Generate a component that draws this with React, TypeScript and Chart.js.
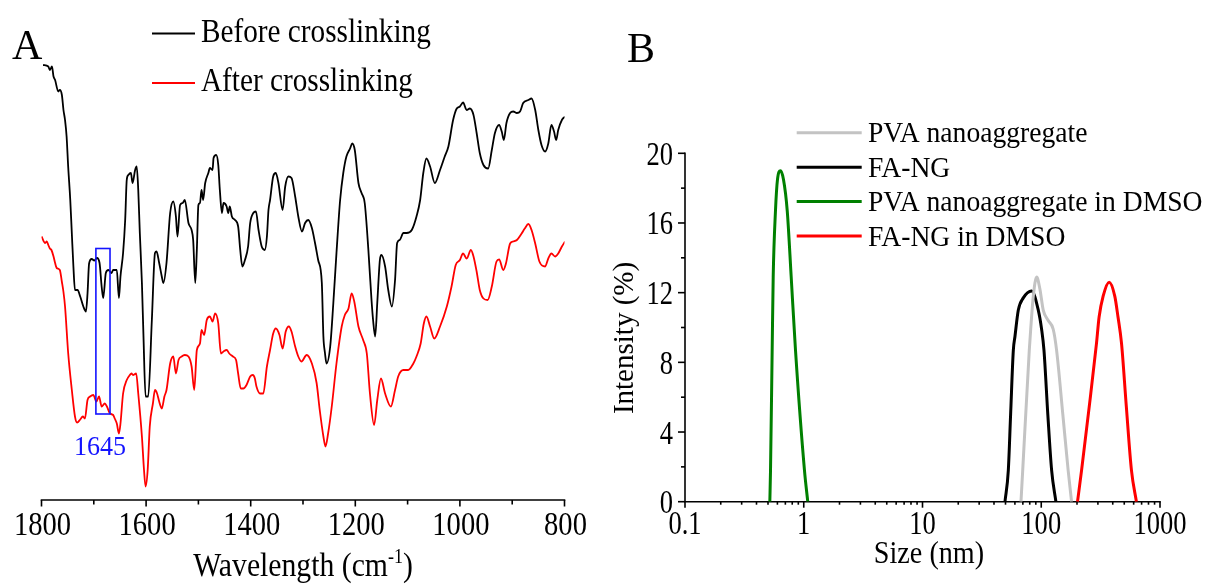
import React, { useEffect, useRef } from 'react';
import { Chart, registerables } from 'chart.js';

Chart.register(...registerables);

const FONT = "'Liberation Serif', 'Times New Roman', serif";

// ---------- Panel A : FTIR spectra ----------
const waveTicks = [1800, 1600, 1400, 1200, 1000, 800];
const waveTickLabels = ['1800', '1600', '1400', '1200', '1000', '800'];
const waveMinorStep = 100;

const beforeWn = [1797,1787,1784,1780,1777,1774,1768,1765,1761,1758,1755,1752,1749,1745,1742,1739,1736,1731,1726,1720,1715,1712,1709,1704,1699,1694,1689,1685,1682,1677,1672,1666,1663,1656,1652,1649,1644,1640,1637,1634,1629,1626,1621,1618,1615,1612,1608,1605,1601,1596,1589,1583,1580,1575,1570,1567,1561,1554,1548,1543,1540,1535,1530,1526,1519,1513,1510,1506,1503,1500,1497,1494,1491,1487,1481,1478,1473,1471,1466,1462,1459,1455,1452,1446,1443,1440,1436,1430,1424,1420,1416,1411,1405,1401,1395,1390,1385,1379,1373,1369,1366,1363,1357,1352,1347,1339,1334,1328,1322,1315,1309,1302,1296,1290,1283,1277,1271,1264,1261,1258,1255,1248,1242,1236,1229,1223,1217,1210,1206,1201,1194,1188,1182,1175,1169,1166,1162,1158,1153,1150,1143,1137,1130,1124,1120,1115,1108,1102,1092,1083,1076,1070,1064,1057,1048,1038,1029,1022,1013,1006,1000,994,987,981,974,968,962,955,946,939,933,925,920,916,911,904,898,891,885,879,869,863,856,850,844,837,831,825,820,816,812,805,799];
const beforeT = [87.0,86.7,86.0,86.7,84.7,84.0,81.7,82.0,81.0,78.0,76.0,72.7,66.7,60.0,53.3,46.7,42.0,42.0,40.7,38.7,37.7,41.3,47.3,48.2,47.9,48.4,47.4,42.7,40.4,45.4,46.0,45.4,46.0,46.0,40.4,44.7,49.4,56.0,64.0,65.0,65.4,63.4,66.0,66.7,62.0,53.4,43.4,32.7,20.7,20.7,36.0,49.4,49.7,47.4,44.7,43.4,47.4,57.4,59.7,56.7,52.7,59.0,59.4,60.0,55.4,54.0,52.0,43.4,50.0,59.0,59.4,62.0,60.0,63.4,65.4,66.4,66.0,68.4,69.0,67.0,62.0,57.4,59.4,58.7,57.4,58.7,56.7,56.0,54.7,50.0,46.7,48.0,50.7,55.4,57.4,57.7,54.0,50.7,50.0,52.7,58.0,60.0,64.7,65.4,63.4,58.0,62.7,64.7,64.4,60.7,56.7,53.7,55.4,56.0,54.4,51.4,48.0,43.4,32.7,29.4,27.3,30.7,39.4,49.4,60.0,65.4,68.7,70.3,71.3,70.0,63.4,61.4,59.4,50.0,40.0,36.0,32.7,39.4,48.0,49.0,46.7,42.0,38.7,44.0,51.4,52.0,53.4,53.4,54.0,56.7,60.0,65.4,68.3,66.7,63.4,66.0,68.7,70.7,76.0,78.3,78.7,79.5,78.0,78.3,77.0,73.4,69.4,67.0,66.3,70.0,73.4,75.0,73.7,72.0,75.4,77.4,77.7,77.4,77.7,79.4,80.0,80.3,78.0,74.0,71.0,69.7,71.3,75.0,73.7,72.0,74.0,76.0,76.7];

const afterWn = [1800,1793,1790,1787,1784,1781,1777,1774,1771,1765,1761,1758,1755,1749,1742,1736,1732,1726,1721,1717,1712,1707,1701,1695,1690,1685,1679,1675,1669,1663,1660,1656,1652,1649,1644,1637,1631,1628,1625,1619,1615,1608,1604,1601,1597,1593,1587,1583,1579,1575,1570,1565,1561,1554,1548,1543,1538,1532,1526,1519,1513,1508,1503,1497,1494,1489,1484,1478,1473,1468,1462,1457,1452,1446,1441,1434,1428,1424,1419,1414,1408,1401,1396,1392,1389,1382,1376,1369,1363,1357,1352,1345,1339,1333,1327,1322,1315,1309,1303,1293,1283,1274,1268,1261,1257,1252,1245,1236,1226,1220,1213,1207,1202,1194,1185,1178,1172,1164,1158,1151,1143,1132,1124,1118,1108,1099,1089,1083,1075,1069,1064,1057,1049,1038,1025,1016,1008,1000,994,987,979,974,968,962,955,947,939,930,925,917,912,904,898,891,882,876,869,863,856,848,837,831,825,818,812,805,799];
const afterT = [52.7,51.4,51.7,51.0,50.3,50.0,48.7,47.4,46.4,46.0,43.6,41.6,38.7,29.4,22.0,16.7,15.5,16.1,16.7,16.3,20.0,20.7,21.0,19.7,20.7,18.7,19.3,18.7,17.3,17.0,16.3,15.3,13.3,15.3,21.3,24.0,25.0,25.3,25.0,25.3,21.3,12.7,6.0,2.7,6.0,14.7,19.3,22.0,21.3,19.7,18.3,20.7,22.0,27.3,28.7,25.3,28.0,28.7,29.0,28.7,26.7,22.0,30.0,31.3,34.0,33.0,36.0,36.7,35.7,37.3,35.3,29.3,29.7,30.0,29.3,28.7,28.0,25.3,22.3,22.3,23.0,24.7,25.0,24.3,22.7,21.3,21.3,26.7,30.0,33.3,34.3,33.0,30.3,33.7,34.7,33.7,30.7,28.7,27.7,29.0,27.3,23.4,18.0,12.7,10.7,13.3,18.7,27.3,34.7,37.0,38.3,41.3,39.7,34.7,32.0,29.3,21.3,15.0,20.0,24.3,21.3,18.7,22.0,24.7,26.0,26.0,27.3,28.7,31.3,35.3,36.7,34.7,32.3,34.7,38.7,42.7,47.0,48.0,49.3,48.3,50.0,48.7,45.7,42.0,40.3,40.0,42.7,47.7,48.1,46.0,47.3,51.3,51.7,52.0,53.3,54.3,55.2,54.0,51.3,47.7,46.7,48.3,49.3,48.7,49.3,50.7,51.7];

const highlightWn = [1696, 1669];
const highlightT = [50.3, 17.2];
const highlightLabel = '1645';

// ---------- Panel B : DLS size distributions ----------
const sizeTicks = [0.1, 1, 10, 100, 1000];
const sizeTickLabels = ['0.1', '1', '10', '100', '1000'];
const intensityTicks = [0, 4, 8, 12, 16, 20];
const intensityTickLabels = ['0', '4', '8', '12', '16', '20'];

const pvaSize = [67.5, 69.8, 79.3, 81.5, 85.7, 91.5, 97.5, 103.9, 114.5, 126.1, 134.6, 152, 168.5, 180];
const pvaInt = [0, 1.8, 8.7, 9.9, 11.8, 12.9, 12.2, 11.0, 10.4, 9.9, 8.7, 5.0, 1.8, 0];
const fangSize = [49.5, 52.8, 55.2, 58.2, 60.1, 64.1, 70.6, 83.0, 94.4, 100.7, 105.4, 113.6, 122.3, 132.9];
const fangInt = [0, 1.8, 5.0, 8.7, 9.5, 11.0, 11.7, 12.1, 11.0, 9.9, 8.7, 5.0, 1.8, 0];
const pvaDmsoSize = [0.518, 0.525, 0.542, 0.553, 0.578, 0.601, 0.637, 0.675, 0.726, 0.784, 0.852, 1.014, 1.081];
const pvaDmsoInt = [0, 1.8, 8.7, 12.9, 16.7, 18.5, 19.0, 18.5, 16.7, 12.9, 8.7, 1.8, 0];
const fangDmsoSize = [202, 218.5, 254, 292, 307, 332, 373, 416, 443, 474, 520, 575, 633];
const fangDmsoInt = [0, 1.8, 5.5, 9.1, 10.6, 11.8, 12.6, 11.8, 10.6, 9.1, 5.5, 1.8, 0];

const zip = (xs: number[], ys: number[]) => xs.map((x, i) => ({ x, y: ys[i] }));

function line(ctx: any, x1: number, y1: number, x2: number, y2: number) {
  ctx.beginPath();
  ctx.moveTo(x1, y1);
  ctx.lineTo(x2, y2);
  ctx.stroke();
}

// Text drawn with a horizontal squeeze, like the narrow serif face of the original figure.
function condText(ctx: any, text: string, x: number, y: number, size: number, sx: number, align = 'left', color = '#000') {
  ctx.save();
  ctx.font = `${size}px ${FONT}`;
  ctx.fillStyle = color;
  ctx.textAlign = align;
  ctx.textBaseline = 'alphabetic';
  ctx.translate(x, y);
  ctx.scale(sx, 1);
  ctx.fillText(text, 0, 0);
  ctx.restore();
}

function textW(ctx: any, text: string, size: number, sx: number) {
  ctx.save();
  ctx.font = `${size}px ${FONT}`;
  const w = ctx.measureText(text).width * sx;
  ctx.restore();
  return w;
}

const decorA = {
  id: 'decorA',
  beforeDatasetsDraw(chart: any) {
    const { ctx, chartArea: ca, scales } = chart;
    const x = scales.x;
    ctx.save();
    ctx.strokeStyle = '#000';
    ctx.lineWidth = 1.6;
    line(ctx, ca.left - 0.8, ca.bottom, ca.right + 0.8, ca.bottom);
    for (let v = 800; v <= 1800; v += waveMinorStep) {
      const px = x.getPixelForValue(v);
      const len = waveTicks.includes(v) ? 6.5 : 4.5;
      line(ctx, px, ca.bottom, px, ca.bottom + len);
    }
    ctx.restore();
  },
  afterDraw(chart: any) {
    const { ctx, chartArea: ca, scales } = chart;
    const x = scales.x, y = scales.y;

    // tick labels
    waveTicks.forEach((v, i) => {
      condText(ctx, waveTickLabels[i], x.getPixelForValue(v) + 1, 535, 34, 0.84, 'center');
    });

    // axis title with superscript
    const main = 'Wavelength (cm';
    const sup = '-1';
    const close = ')';
    const sx = 0.9;
    const w1 = textW(ctx, main, 33, sx);
    const w2 = textW(ctx, sup, 20, sx);
    const w3 = textW(ctx, close, 33, sx);
    const cx = (ca.left + ca.right) / 2;
    const start = cx - (w1 + w2 + w3) / 2;
    const base = 576;
    condText(ctx, main, start, base, 33, sx);
    condText(ctx, sup, start + w1, base - 13, 20, sx);
    condText(ctx, close, start + w1 + w2, base, 33, sx);

    // legend
    const legY = [33.5, 83];
    chart.data.datasets.forEach((ds: any, i: number) => {
      ctx.save();
      ctx.strokeStyle = ds.borderColor;
      ctx.lineWidth = 1.8;
      line(ctx, 152, legY[i], 195, legY[i]);
      ctx.restore();
      condText(ctx, ds.label, 201, legY[i] + 8, 34, 0.86);
    });

    // panel letter
    condText(ctx, 'A', 12, 58.5, 42, 1);

    // highlight box
    const bx1 = x.getPixelForValue(highlightWn[0]);
    const bx2 = x.getPixelForValue(highlightWn[1]);
    const by1 = y.getPixelForValue(highlightT[0]);
    const by2 = y.getPixelForValue(highlightT[1]);
    ctx.save();
    ctx.strokeStyle = '#1414ff';
    ctx.lineWidth = 1.6;
    ctx.strokeRect(bx1, by1, bx2 - bx1, by2 - by1);
    ctx.restore();
    condText(ctx, highlightLabel, (bx1 + bx2) / 2 - 3, by2 + 41, 28, 0.93, 'center', '#1414ff');
  },
};

const decorB = {
  id: 'decorB',
  beforeDatasetsDraw(chart: any) {
    const { ctx, chartArea: ca, scales } = chart;
    const x = scales.x, y = scales.y;
    ctx.save();
    ctx.strokeStyle = '#000';
    ctx.lineWidth = 1.6;
    line(ctx, ca.left - 0.8, ca.bottom, ca.right + 0.8, ca.bottom);
    line(ctx, ca.left, ca.bottom, ca.left, ca.top - 0.8);
    for (let d = 0; d < sizeTicks.length; d++) {
      const dec = sizeTicks[d];
      const px = x.getPixelForValue(dec);
      line(ctx, px, ca.bottom, px, ca.bottom + 6);
      if (d < sizeTicks.length - 1) {
        for (let m = 2; m <= 9; m++) {
          const p = x.getPixelForValue(dec * m);
          line(ctx, p, ca.bottom, p, ca.bottom + 3);
        }
      }
    }
    for (let v = 0; v <= 20; v += 2) {
      const py = y.getPixelForValue(v);
      const len = intensityTicks.includes(v) ? 7 : 4;
      line(ctx, ca.left - len, py, ca.left, py);
    }
    ctx.restore();
  },
  afterDraw(chart: any) {
    const { ctx, chartArea: ca, scales } = chart;
    const x = scales.x, y = scales.y;

    // tick labels
    sizeTicks.forEach((v, i) => {
      condText(ctx, sizeTickLabels[i], x.getPixelForValue(v), 533.5, 34, 0.78, 'center');
    });
    intensityTicks.forEach((v, i) => {
      condText(ctx, intensityTickLabels[i], ca.left - 12, y.getPixelForValue(v) + 11.5, 34, 0.78, 'right');
    });

    // axis titles
    condText(ctx, 'Size (nm)', 329, 563, 32, 0.88, 'center');
    ctx.save();
    ctx.translate(25, 338);
    ctx.rotate(-Math.PI / 2);
    ctx.font = `29px ${FONT}`;
    ctx.fillStyle = '#000';
    ctx.textAlign = 'center';
    ctx.textBaseline = 'middle';
    ctx.fillText('Intensity (%)', 0, 0);
    ctx.restore();

    // legend
    chart.data.datasets.forEach((ds: any, i: number) => {
      const ly = 132.7 + 34.45 * i;
      ctx.save();
      ctx.strokeStyle = ds.borderColor;
      ctx.lineWidth = 3;
      line(ctx, 196.7, ly, 261.7, ly);
      ctx.restore();
      condText(ctx, ds.label, 268, ly + 9.5, 30, 0.92);
    });

    condText(ctx, 'B', 27, 62, 42, 1);
  },
};

function makeA(canvas: HTMLCanvasElement) {
  const common = { pointRadius: 0, borderWidth: 1.8, cubicInterpolationMode: 'monotone', fill: false };
  return new Chart(canvas, {
    type: 'line',
    data: {
      datasets: [
        { label: 'Before crosslinking', data: zip(beforeWn, beforeT), borderColor: '#000000', ...common },
        { label: 'After crosslinking', data: zip(afterWn, afterT), borderColor: '#ff0000', ...common },
      ],
    },
    options: {
      animation: false,
      responsive: true,
      maintainAspectRatio: false,
      layout: { padding: { left: 41.5, right: 35.5, top: 20, bottom: 0 } },
      plugins: { legend: { display: false }, tooltip: { enabled: false } },
      scales: {
        x: {
          type: 'linear',
          reverse: true,
          min: 800,
          max: 1800,
          afterBuildTicks: (s: any) => { s.ticks = waveTicks.map((v) => ({ value: v })); },
          afterFit: (s: any) => { s.height = 87; },
          grid: { display: false, drawTicks: false },
          border: { display: false },
          ticks: { display: false },
        },
        y: { display: false, min: 0, max: 96 },
      },
    } as any,
    plugins: [decorA],
  } as any);
}

function makeB(canvas: HTMLCanvasElement) {
  const common = { pointRadius: 0, borderWidth: 3, cubicInterpolationMode: 'monotone', fill: false };
  return new Chart(canvas, {
    type: 'line',
    data: {
      datasets: [
        { label: 'PVA nanoaggregate', data: zip(pvaSize, pvaInt), borderColor: '#c3c3c3', ...common },
        { label: 'FA-NG', data: zip(fangSize, fangInt), borderColor: '#000000', ...common },
        { label: 'PVA nanoaggregate in DMSO', data: zip(pvaDmsoSize, pvaDmsoInt), borderColor: '#008000', ...common },
        { label: 'FA-NG in DMSO', data: zip(fangDmsoSize, fangDmsoInt), borderColor: '#ff0000', ...common },
      ],
    },
    options: {
      animation: false,
      responsive: true,
      maintainAspectRatio: false,
      layout: { padding: { left: 0, right: 53, top: 153.3, bottom: 0 } },
      plugins: { legend: { display: false }, tooltip: { enabled: false } },
      scales: {
        x: {
          type: 'logarithmic',
          min: 0.1,
          max: 1000,
          afterBuildTicks: (s: any) => { s.ticks = sizeTicks.map((v) => ({ value: v })); },
          afterFit: (s: any) => { s.height = 85.3; },
          grid: { display: false, drawTicks: false },
          border: { display: false },
          ticks: { display: false },
        },
        y: {
          min: 0,
          max: 20,
          afterBuildTicks: (s: any) => { s.ticks = intensityTicks.map((v) => ({ value: v })); },
          afterFit: (s: any) => { s.width = 85; },
          grid: { display: false, drawTicks: false },
          border: { display: false },
          ticks: { display: false },
        },
      },
    } as any,
    plugins: [decorB],
  } as any);
}

export default function App() {
  const refA = useRef<HTMLCanvasElement>(null);
  const refB = useRef<HTMLCanvasElement>(null);

  useEffect(() => {
    const a = makeA(refA.current as HTMLCanvasElement);
    const b = makeB(refB.current as HTMLCanvasElement);
    return () => {
      a.destroy();
      b.destroy();
    };
  }, []);

  return (
    <div style={{ position: 'absolute', left: 0, top: 0, width: 1213, height: 587, background: '#ffffff' }}>
      <div style={{ position: 'absolute', left: 0, top: 0, width: 600, height: 587 }}>
        <canvas ref={refA} />
      </div>
      <div style={{ position: 'absolute', left: 600, top: 0, width: 613, height: 587 }}>
        <canvas ref={refB} />
      </div>
    </div>
  );
}
